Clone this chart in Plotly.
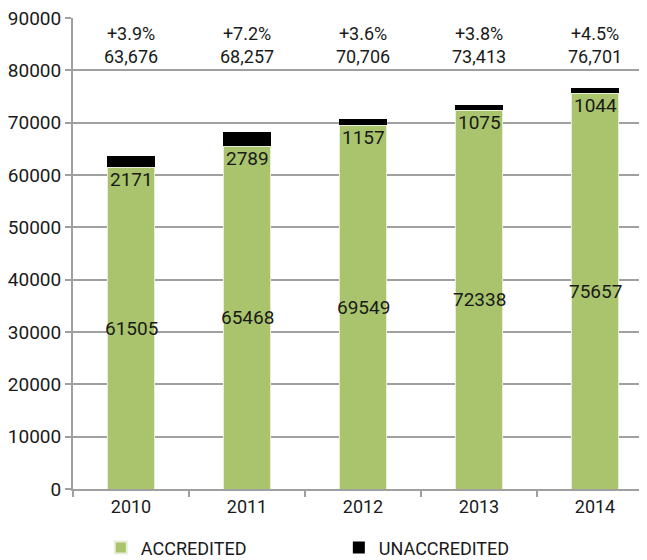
import plotly.graph_objects as go

years = ["2010", "2011", "2012", "2013", "2014"]
accredited = [61505, 65468, 69549, 72338, 75657]
unaccredited = [2171, 2789, 1157, 1075, 1044]
totals_text = ["63,676", "68,257", "70,706", "73,413", "76,701"]
growth_text = ["+3.9%", "+7.2%", "+3.6%", "+3.8%", "+4.5%"]

FONT = "Liberation Sans Narrow, Roboto, sans-serif"
GREEN = "#A9C46C"
TXT = "#1a1a1a"

fig = go.Figure()
fig.add_trace(go.Bar(
    x=years, y=accredited, name="ACCREDITED",
    marker=dict(color=GREEN, line=dict(color="#e8efd8", width=1)),
    width=0.41,
))
fig.add_trace(go.Bar(
    x=years, y=unaccredited, name="UNACCREDITED",
    marker=dict(color="black", line=dict(width=0)),
    width=0.41,
))

for i, a in enumerate(accredited):
    fig.add_annotation(x=i, y=a / 2, text=str(a), showarrow=False, yanchor="middle",
                       font=dict(size=19, color=TXT, family=FONT))

for i, (a, u) in enumerate(zip(accredited, unaccredited)):
    fig.add_annotation(x=i, y=a, text=str(u), showarrow=False, yanchor="top",
                       yshift=1, font=dict(size=19, color=TXT, family=FONT))

for i, (g, t) in enumerate(zip(growth_text, totals_text)):
    fig.add_annotation(x=i, y=84900, text=g + "<br>" + t, showarrow=False,
                       yanchor="middle", font=dict(size=18, color=TXT, family=FONT))

fig.update_layout(
    barmode="stack",
    width=647, height=560,
    margin=dict(l=65, r=2, t=10, b=79, autoexpand=False),
    plot_bgcolor="white", paper_bgcolor="white",
    font=dict(family=FONT, size=18, color=TXT),
    showlegend=True,
    legend=dict(orientation="h", x=0.048, xanchor="left", yref="container",
                y=0.036, yanchor="middle",
                font=dict(size=18, family=FONT, color=TXT), traceorder="normal",
                entrywidth=193, entrywidthmode="pixels", itemsizing="constant"),
    xaxis=dict(type="category", range=[-0.5, 4.5], showline=True, linecolor="#a0a0a0",
               linewidth=2, ticks="outside", tickson="boundaries", ticklen=6, tickwidth=2,
               tickcolor="#a0a0a0", tickfont=dict(size=18, family=FONT, color=TXT)),
    yaxis=dict(range=[0, 90001], tickmode="linear", tick0=0, dtick=10000, tickformat="d",
               showline=True, ticklabeloverflow="allow",
               linecolor="#a0a0a0", linewidth=2, ticks="outside", ticklen=6,
               tickwidth=2, tickcolor="#a0a0a0",
               showgrid=True, gridcolor="#a0a0a0", gridwidth=2,
               tickfont=dict(size=19, family=FONT, color=TXT), zeroline=False),
)

fig.write_html("out.html")
